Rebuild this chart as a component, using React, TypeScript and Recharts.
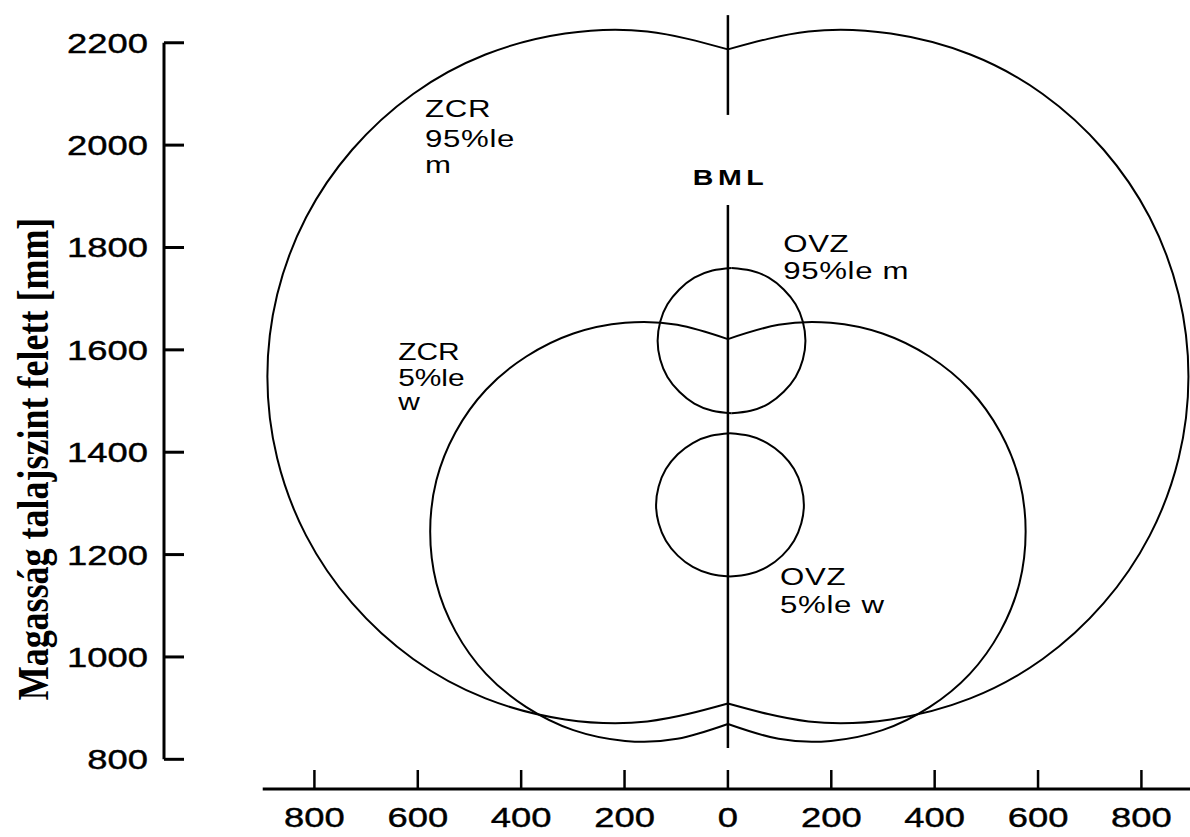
import React from 'react';
import { ComposedChart, Line, XAxis, YAxis, ReferenceLine, Scatter } from 'recharts';

// ---- axis ticks ----
const xTicks = [-800, -600, -400, -200, 0, 200, 400, 600, 800];
const yTicks = [800, 1000, 1200, 1400, 1600, 1800, 2000, 2200];

// ---- ZCR 95%ile male (outer reach envelope), [x mm, height mm] ----
const zcrMaleLeft = [
  [0, 2187], [-156, 2222], [-315, 2218], [-469, 2177], [-609, 2100], [-727, 1991],
  [-816, 1859], [-872, 1708], [-891, 1548], [-872, 1388], [-816, 1237], [-727, 1105],
  [-609, 996], [-469, 919], [-315, 878], [-156, 874], [0, 909],
];
const zcrMaleRight = [
  [0, 2187], [156, 2222], [315, 2218], [469, 2177], [609, 2100], [727, 1991],
  [816, 1859], [872, 1708], [891, 1548], [872, 1388], [816, 1237], [727, 1105],
  [609, 996], [469, 919], [315, 878], [156, 874], [0, 909],
];

// ---- ZCR 5%ile female (inner reach envelope) ----
const zcrFemaleLeft = [
  [0, 1621], [-98, 1649], [-199, 1653], [-299, 1632], [-390, 1587], [-468, 1522],
  [-527, 1439], [-564, 1345], [-576, 1245], [-564, 1144], [-527, 1050], [-468, 967],
  [-390, 902], [-299, 857], [-199, 836], [-98, 840], [0, 869],
];
const zcrFemaleRight = [
  [0, 1621], [98, 1649], [199, 1653], [299, 1632], [390, 1587], [468, 1522],
  [527, 1439], [564, 1345], [576, 1245], [564, 1144], [527, 1050], [468, 967],
  [390, 902], [299, 857], [199, 836], [98, 840], [0, 869],
];

// ---- OVZ 95%ile male (optimal visual zone) ----
const ovzMaleLeft = [
  [7, 1760], [-30, 1755], [-65, 1741], [-94, 1718], [-117, 1689], [-131, 1655], [-136, 1618],
  [-131, 1581], [-117, 1547], [-94, 1518], [-65, 1495], [-30, 1481], [7, 1476],
];
const ovzMaleRight = [
  [7, 1760], [44, 1755], [79, 1741], [108, 1718], [131, 1689], [145, 1655], [150, 1618],
  [145, 1581], [131, 1547], [108, 1518], [79, 1495], [44, 1481], [7, 1476],
];

// ---- OVZ 5%ile female ----
const ovzFemaleLeft = [
  [4, 1437], [-33, 1432], [-68, 1418], [-97, 1396], [-120, 1367], [-134, 1333], [-139, 1297],
  [-134, 1261], [-120, 1227], [-97, 1198], [-68, 1176], [-33, 1162], [4, 1157],
];
const ovzFemaleRight = [
  [4, 1437], [41, 1432], [76, 1418], [105, 1396], [128, 1367], [142, 1333], [147, 1297],
  [142, 1261], [128, 1227], [105, 1198], [76, 1176], [41, 1162], [4, 1157],
];

// ---- BML (body mid line) ----
const bmlUpper = [[0, 2254], [0, 2059]];
const bmlLower = [[0, 1883], [0, 822]];

// ---- annotation texts ----
const labelTexts = [
  { x: -586, y: 2055, lines: ['ZCR', '95%le', 'm'] },
  { x: -68, y: 1922, lines: ['BML'] },
  { x: 107, y: 1791, lines: ['OVZ', '95%le m'] },
  { x: -638, y: 1580, lines: ['ZCR', '5%le', 'w'] },
  { x: 101, y: 1141, lines: ['OVZ', '5%le w'] },
];
const labelStyle = [
  { size: 24, spacing: 0.5, weight: 'normal', gaps: [0, 30, 26] },
  { size: 22, spacing: 3.5, weight: 'bold', gaps: [0] },
  { size: 24, spacing: 0.5, weight: 'normal', gaps: [0, 27] },
  { size: 23, spacing: 0, weight: 'normal', gaps: [0, 26, 24] },
  { size: 24, spacing: 0.5, weight: 'normal', gaps: [0, 28] },
];

const yTitle = 'Magasság talajszint felett [mm]';

const SANS = "'Liberation Sans', Arial, Helvetica, sans-serif";
const SERIF = "'Liberation Serif', 'Times New Roman', serif";

const toPts = (a: number[][]) => a.map(([x, y]) => ({ x, y }));

const curves = [
  zcrMaleLeft, zcrMaleRight, zcrFemaleLeft, zcrFemaleRight,
  ovzMaleLeft, ovzMaleRight, ovzFemaleLeft, ovzFemaleRight,
].map(toPts);
const bmlLines = [bmlUpper, bmlLower].map(toPts);
const labelData = labelTexts.map((l, i) => ({ ...l, idx: i }));

const YTick = (props: any) => {
  const { x, y, payload } = props;
  return (
    <g>
      <line x1={x} y1={y} x2={x + 20} y2={y} stroke="#000" strokeWidth={3} />
      <text
        transform={`translate(${x - 16},${y + 10}) scale(1.3,1)`}
        textAnchor="end"
        fontFamily={SANS}
        fontSize={28}
        stroke="#000"
        strokeWidth={0.4}
        fill="#000"
      >
        {payload.value}
      </text>
    </g>
  );
};

const XTick = (props: any) => {
  const { x, y, payload } = props;
  return (
    <g>
      <line x1={x} y1={y} x2={x} y2={y - 19} stroke="#000" strokeWidth={2.5} />
      <text
        transform={`translate(${x},${y + 38}) scale(1.3,1)`}
        textAnchor="middle"
        fontFamily={SANS}
        fontSize={28}
        stroke="#000"
        strokeWidth={0.4}
        fill="#000"
      >
        {Math.abs(payload.value)}
      </text>
    </g>
  );
};

const LabelShape = (props: any) => {
  const { cx, cy, payload } = props;
  if (cx == null || cy == null || !payload) return <g />;
  const st = labelStyle[payload.idx];
  let off = 0;
  return (
    <g>
      {payload.lines.map((t: string, i: number) => {
        off += st.gaps[i];
        return (
          <text
            key={i}
            transform={`translate(${cx},${cy + off}) scale(1.3,1)`}
            fontFamily={SANS}
            fontSize={st.size}
            fontWeight={st.weight}
            letterSpacing={st.spacing}
            fill="#000"
          >
            {t}
          </text>
        );
      })}
    </g>
  );
};

const TitleLabel = () => (
  <text
    transform="translate(48,459) rotate(-90) scale(1,1.25)"
    textAnchor="middle"
    fontFamily={SERIF}
    fontWeight="bold"
    fontSize={36}
    fill="#000"
  >
    {yTitle}
  </text>
);

export default function App() {
  return (
    <div style={{ position: 'absolute', left: 0, top: 0, width: 1190, height: 837, background: '#fff' }}>
      <ComposedChart width={1190} height={837} margin={{ top: 10, right: 0, bottom: 0, left: 0 }}>
        <XAxis
          type="number"
          dataKey="x"
          domain={[-1091, 894]}
          allowDataOverflow
          ticks={xTicks}
          interval={0}
          axisLine={false}
          tickLine={false}
          tickSize={0}
          tickMargin={0}
          height={48}
          tick={<XTick />}
        />
        <YAxis
          type="number"
          dataKey="y"
          domain={[742, 2264]}
          allowDataOverflow
          ticks={yTicks}
          interval={0}
          axisLine={false}
          tickLine={false}
          tickSize={0}
          tickMargin={0}
          width={164}
          tick={<YTick />}
          label={{ content: <TitleLabel /> }}
        />
        <ReferenceLine
          segment={[{ x: -1091, y: 800 }, { x: -1091, y: 2200 }]}
          stroke="#000"
          strokeWidth={3}
          ifOverflow="visible"
        />
        <ReferenceLine
          segment={[{ x: -900, y: 742 }, { x: 894, y: 742 }]}
          stroke="#000"
          strokeWidth={3}
          ifOverflow="visible"
        />
        {curves.map((d, i) => (
          <Line
            key={'c' + i}
            data={d}
            dataKey="y"
            type="natural"
            stroke="#000"
            strokeWidth={2}
            dot={false}
            activeDot={false}
            isAnimationActive={false}
          />
        ))}
        {bmlLines.map((d, i) => (
          <Line
            key={'b' + i}
            data={d}
            dataKey="y"
            type="linear"
            stroke="#000"
            strokeWidth={2.5}
            dot={false}
            activeDot={false}
            isAnimationActive={false}
          />
        ))}
        <Scatter data={labelData} dataKey="y" shape={<LabelShape />} isAnimationActive={false} />
      </ComposedChart>
    </div>
  );
}
